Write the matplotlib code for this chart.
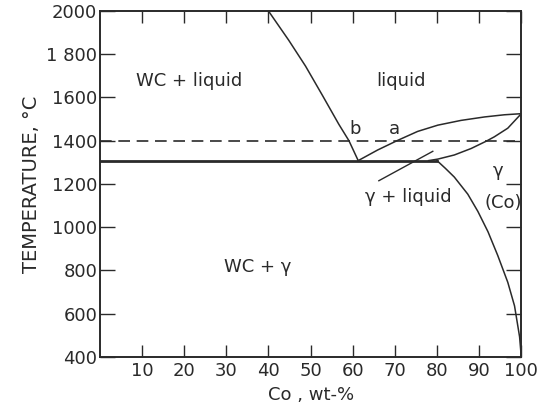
import matplotlib.pyplot as plt

# phase boundaries (Co wt-%, temperature degC)
wc_liq_x = [40, 44.8, 48.8, 52.8, 56.7, 59.1, 61.3]
wc_liq_t = [2000, 1865, 1745, 1610, 1476, 1400, 1308]

liq_x = [61.3, 65.9, 70.6, 75.4, 80.2, 85.7, 91.3, 96.0, 100]
liq_t = [1308, 1357, 1401, 1443, 1472, 1494, 1510, 1520, 1525]

sol_x = [78, 80.2, 84.1, 88.1, 91.7, 93.6, 96.8, 100]
sol_t = [1308, 1315, 1334, 1364, 1398, 1418, 1458, 1525]

solv_x = [80.0, 82.0, 84.1, 87.3, 89.7, 92.1, 94.4, 96.8, 98.4, 99.6, 100]
solv_t = [1308, 1272, 1232, 1153, 1073, 979, 870, 745, 636, 493, 400]

eut_x = [0, 80]
eut_t = [1308, 1308]

iso_t = 1400

lead_x = [66.2, 79.0]
lead_t = [1215, 1351]

xticks = [10, 20, 30, 40, 50, 60, 70, 80, 90, 100]
yticks = [400, 600, 800, 1000, 1200, 1400, 1600, 1800, 2000]
ylabels = ['400', '600', '800', '1000', '1200', '1400', '1600', '1 800', '2000']

ink = '#2a2a2a'
plt.rcParams['font.family'] = 'DejaVu Sans'

fig = plt.figure(figsize=(5.43, 4.07), dpi=100)
ax = fig.add_axes([0.184, 0.123, 0.776, 0.850])

for xs, ts in [(wc_liq_x, wc_liq_t), (liq_x, liq_t), (sol_x, sol_t), (solv_x, solv_t)]:
    ax.plot(xs, ts, color=ink, lw=1.1, solid_joinstyle='round')
ax.plot(eut_x, eut_t, color=ink, lw=2.0)
ax.axhline(iso_t, color=ink, lw=1.2, ls=(0, (7, 4)))
ax.plot(lead_x, lead_t, color=ink, lw=1.0)

ax.set_xlim(0, 100)
ax.set_ylim(400, 2000)
ax.set_xticks(xticks)
ax.set_yticks(yticks)
ax.set_yticklabels(ylabels)
ax.tick_params(axis='y', direction='in', length=11, width=1, right=True,
               labelsize=13, colors=ink, pad=2)
ax.tick_params(axis='x', direction='in', length=8.5, width=1, top=True,
               labelsize=13, colors=ink, pad=4)
for s in ax.spines.values():
    s.set_color(ink)
    s.set_linewidth(1.4)

ax.set_xlabel('Co , wt-%', fontsize=13, color=ink, labelpad=4)
ax.set_ylabel('TEMPERATURE, °C', fontsize=14, color=ink, labelpad=4)

txt = dict(fontsize=13, color=ink, ha='center', va='center')
ax.text(21.2, 1676, 'WC + liquid', **txt)
ax.text(71.4, 1676, 'liquid', **txt)
ax.text(60.5, 1452, 'b', **txt)
ax.text(69.8, 1452, 'a', **txt)
ax.text(73.1, 1142, 'γ + liquid', **txt)
ax.text(94.5, 1262, 'γ', **txt)
ax.text(95.7, 1110, '(Co)', **txt)
ax.text(37.4, 817, 'WC + γ', **txt)

fig.savefig('out.png', dpi=100)
